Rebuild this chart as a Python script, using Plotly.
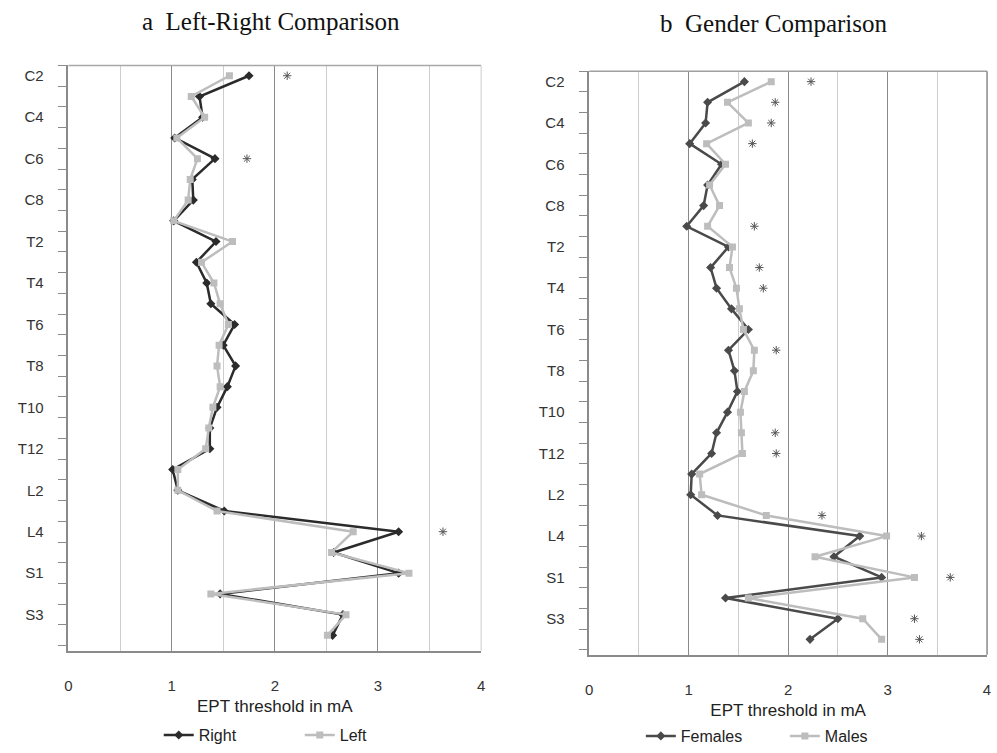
import plotly.graph_objects as go

# ---------------- data ----------------
levels = ["C2", "C3", "C4", "C5", "C6", "C7", "C8",
          "T1", "T2", "T3", "T4", "T5", "T6", "T7", "T8", "T9", "T10", "T11", "T12",
          "L1", "L2", "L3", "L4", "L5",
          "S1", "S2", "S3", "S4"]
tick_labels = levels[::2]
x_ticks = [0, 1, 2, 3, 4]

right = [1.75, 1.27, 1.30, 1.03, 1.42, 1.20, 1.21, 1.02, 1.43, 1.24, 1.34, 1.38, 1.61, 1.50,
         1.62, 1.54, 1.44, 1.37, 1.37, 1.01, 1.06, 1.51, 3.20, 2.57, 3.20, 1.47, 2.66, 2.56]
left = [1.56, 1.19, 1.32, 1.05, 1.25, 1.18, 1.16, 1.02, 1.59, 1.29, 1.41, 1.47, 1.55, 1.46,
        1.44, 1.47, 1.40, 1.36, 1.33, 1.06, 1.06, 1.44, 2.76, 2.55, 3.30, 1.38, 2.69, 2.51]

females = [1.56, 1.19, 1.17, 1.01, 1.33, 1.19, 1.15, 0.98, 1.40, 1.22, 1.28, 1.43, 1.60, 1.40,
           1.46, 1.49, 1.39, 1.28, 1.23, 1.03, 1.02, 1.29, 2.72, 2.46, 2.94, 1.37, 2.50, 2.22]
males = [1.83, 1.39, 1.60, 1.18, 1.37, 1.21, 1.31, 1.19, 1.44, 1.41, 1.48, 1.51, 1.55, 1.66,
         1.65, 1.56, 1.52, 1.53, 1.54, 1.11, 1.13, 1.78, 2.99, 2.27, 3.27, 1.60, 2.75, 2.94]

stars_a_levels = ["C2", "C6", "L4"]
stars_a_x = [2.12, 1.73, 3.63]
stars_b_levels = ["C2", "C3", "C4", "C5", "T1", "T3", "T4", "T7", "T11", "T12",
                  "L3", "L4", "S1", "S3", "S4"]
stars_b_x = [2.23, 1.87, 1.83, 1.64, 1.66, 1.71, 1.75, 1.88, 1.87, 1.88,
             2.34, 3.34, 3.63, 3.27, 3.32]

# ---------------- layout helpers ----------------
W, H = 997, 753
def dx(a, b):
    return [a / W, b / W]
def dy(top, bottom):
    return [1 - bottom / H, 1 - top / H]

idx = {l: i for i, l in enumerate(levels)}
ypos = list(range(len(levels)))

SANS = "Liberation Sans, Arial, sans-serif"
SERIF = "Liberation Serif, Times New Roman, serif"
DARK = "#2b2b2b"
FEM = "#4a4a4a"
LIGHT = "#bdbdbd"
MAJ = "#8a8a8a"
MIN = "#cdcdcd"
STAR = "#555555"

fig = go.Figure()

fig.add_trace(go.Scatter(x=right, y=ypos, mode="lines+markers", name="Right",
                         line=dict(color=DARK, width=2.5),
                         marker=dict(symbol="diamond", size=7, color=DARK),
                         xaxis="x", yaxis="y", legend="legend"))
fig.add_trace(go.Scatter(x=left, y=ypos, mode="lines+markers", name="Left",
                         line=dict(color=LIGHT, width=2.5),
                         marker=dict(symbol="square", size=7, color=LIGHT),
                         xaxis="x", yaxis="y", legend="legend"))
fig.add_trace(go.Scatter(x=stars_a_x, y=[idx[l] for l in stars_a_levels], mode="markers",
                         marker=dict(symbol="asterisk-open", size=7, color=STAR,
                                     line=dict(color=STAR, width=1)),
                         showlegend=False, hoverinfo="skip", xaxis="x", yaxis="y"))

fig.add_trace(go.Scatter(x=females, y=ypos, mode="lines+markers", name="Females",
                         line=dict(color=FEM, width=2.5),
                         marker=dict(symbol="diamond", size=7, color=FEM),
                         xaxis="x2", yaxis="y2", legend="legend2"))
fig.add_trace(go.Scatter(x=males, y=ypos, mode="lines+markers", name="Males",
                         line=dict(color=LIGHT, width=2.5),
                         marker=dict(symbol="square", size=7, color=LIGHT),
                         xaxis="x2", yaxis="y2", legend="legend2"))
fig.add_trace(go.Scatter(x=stars_b_x, y=[idx[l] for l in stars_b_levels], mode="markers",
                         marker=dict(symbol="asterisk-open", size=7, color=STAR,
                                     line=dict(color=STAR, width=1)),
                         showlegend=False, hoverinfo="skip", xaxis="x2", yaxis="y2"))


def xaxis_cfg(domain, anchor):
    return dict(domain=domain, anchor=anchor, range=[0, 4], tickmode="array",
                tickvals=x_ticks, ticktext=[str(v) for v in x_ticks],
                showgrid=True, gridcolor=MAJ, gridwidth=1,
                minor=dict(dtick=0.5, tick0=0, showgrid=True, gridcolor=MIN, gridwidth=1,
                           ticks=""),
                showline=True, linecolor=MAJ, linewidth=1.5, zeroline=False, ticks="",
                ticklabelstandoff=20,
                tickfont=dict(family=SANS, size=15, color="#333333"),
                title=dict(text="EPT threshold in mA", standoff=7,
                           font=dict(family=SANS, size=17, color="#222222")),
                fixedrange=True)


def yaxis_cfg(domain, anchor):
    return dict(domain=domain, anchor=anchor, range=[len(levels) - 0.25, -0.5],
                tickmode="array", tickvals=list(range(0, len(levels), 2)),
                ticktext=tick_labels, ticks="", showgrid=False, zeroline=False,
                minor=dict(tickmode="array",
                           tickvals=[i - 0.5 for i in range(len(levels) + 1)],
                           ticks="outside", ticklen=9, tickwidth=1, tickcolor=MAJ,
                           showgrid=False),
                showline=True, linecolor=MAJ, linewidth=1.5,
                ticklabelstandoff=20,
                tickfont=dict(family=SANS, size=15, color="#333333"),
                fixedrange=True)


fig.update_layout(
    width=W, height=H, margin=dict(l=0, r=0, t=0, b=0),
    paper_bgcolor="white", plot_bgcolor="white",
    xaxis=xaxis_cfg(dx(65, 481), "y"),
    yaxis=yaxis_cfg(dy(66, 657), "x"),
    xaxis2=xaxis_cfg(dx(590, 991), "y2"),
    yaxis2=yaxis_cfg(dy(72, 661), "x2"),
    legend=dict(orientation="h", x=156 / W, xanchor="left", y=1 - 742 / H, yanchor="middle",
                font=dict(family=SANS, size=16, color="#222222"), entrywidth=96,
                entrywidthmode="pixels", bgcolor="rgba(0,0,0,0)", itemclick=False),
    legend2=dict(orientation="h", x=642 / W, xanchor="left", y=1 - 743 / H, yanchor="middle",
                 font=dict(family=SANS, size=16, color="#222222"), entrywidth=99,
                 entrywidthmode="pixels", bgcolor="rgba(0,0,0,0)", itemclick=False),
    annotations=[
        dict(text="a\u00a0 Left-Right Comparison", xref="paper", yref="paper",
             x=269 / W, y=1 - 22 / H, xanchor="center", yanchor="middle", showarrow=False,
             font=dict(family=SERIF, size=25, color="#111111")),
        dict(text="b\u00a0 Gender Comparison", xref="paper", yref="paper",
             x=776 / W, y=1 - 24 / H, xanchor="center", yanchor="middle", showarrow=False,
             font=dict(family=SERIF, size=25, color="#111111")),
    ],
    shapes=[
        dict(type="line", xref="x domain", yref="y domain", x0=0, x1=1, y0=1, y1=1,
             line=dict(color="#a8a8a8", width=1.5)),
        dict(type="line", xref="x domain", yref="y domain", x0=1, x1=1, y0=0, y1=1,
             line=dict(color=MIN, width=1)),
        dict(type="line", xref="x2 domain", yref="y2 domain", x0=0, x1=1, y0=1, y1=1,
             line=dict(color="#a0a0a0", width=1.5)),
        dict(type="line", xref="x2 domain", yref="y2 domain", x0=1, x1=1, y0=0, y1=1,
             line=dict(color=MAJ, width=1.5)),
    ],
)

fig.write_html("out.html")
